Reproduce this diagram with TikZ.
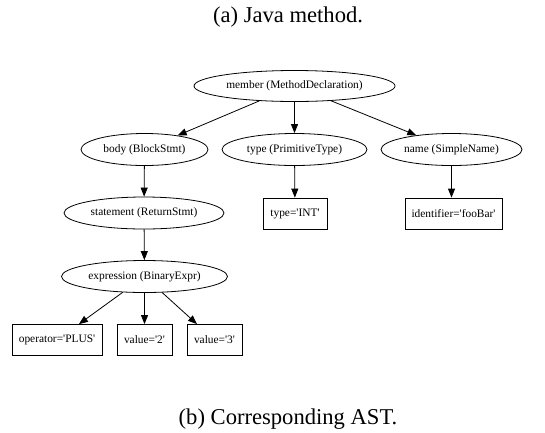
\documentclass[tikz,border=0pt]{standalone}
\usepackage{fontspec}
\setmainfont{Liberation Serif}
\newfontfamily\nodefam{Liberation Serif}[Ligatures=TeXOff]
\usetikzlibrary{shapes.geometric,arrows.meta}
\begin{document}
\begin{tikzpicture}[x=1pt,y=-1pt,
  nodefont/.style={font=\nodefam\fontsize{11.4}{13}\selectfont},
  ell/.style={draw,ellipse,inner sep=0pt,minimum height=32pt,line width=0.8pt,nodefont},
  rbox/.style={draw,rectangle,inner sep=0pt,minimum height=31pt,line width=0.8pt,nodefont},
  conn/.style={draw,line width=0.8pt,-{Triangle[length=9pt,width=7pt]}},
  captext/.style={font=\fontsize{22.6}{26}\selectfont}]
\useasboundingbox (0,0) rectangle (545,432);
\node[captext] (capa) at (288,17) {(a) Java method.};
\node[captext] (capb) at (288,419) {(b) Corresponding AST.};
\node[ell,minimum width=201pt,minimum height=31pt] (member) at (294.5,86) {member (MethodDeclaration)};
\node[ell,minimum width=127pt] (body) at (144.5,149.5) {body (BlockStmt)};
\node[ell,minimum width=145pt] (type) at (294.5,149.5) {type (PrimitiveType)};
\node[ell,minimum width=141pt] (name) at (451.5,149.5) {name (SimpleName)};
\node[ell,minimum width=160pt] (stmt) at (144,213) {statement (ReturnStmt)};
\node[rbox,minimum width=64pt] (int) at (295,213.5) {type='INT'};
\node[rbox,minimum width=97pt] (ident) at (453.5,213.5) {identifier='fooBar'};
\node[ell,minimum width=166pt] (expr) at (144.5,276.5) {expression (BinaryExpr)};
\node[rbox,minimum width=90pt] (op) at (57,340) {operator='PLUS'};
\node[rbox,minimum width=55pt] (v2) at (144.5,340) {value='2'};
\node[rbox,minimum width=55pt] (v3) at (214.5,340) {value='3'};
\draw[conn] (member) -- (body);
\draw[conn] (member) -- (type);
\draw[conn] (member) -- (name);
\draw[conn] (body) -- (stmt);
\draw[conn] (type) -- (int);
\draw[conn] (name.south) -- (name.south |- ident.north);
\draw[conn] (stmt) -- (expr);
\draw[conn] (expr) -- (op);
\draw[conn] (expr) -- (v2);
\draw[conn] (expr) -- (v3);
\end{tikzpicture}
\end{document}
